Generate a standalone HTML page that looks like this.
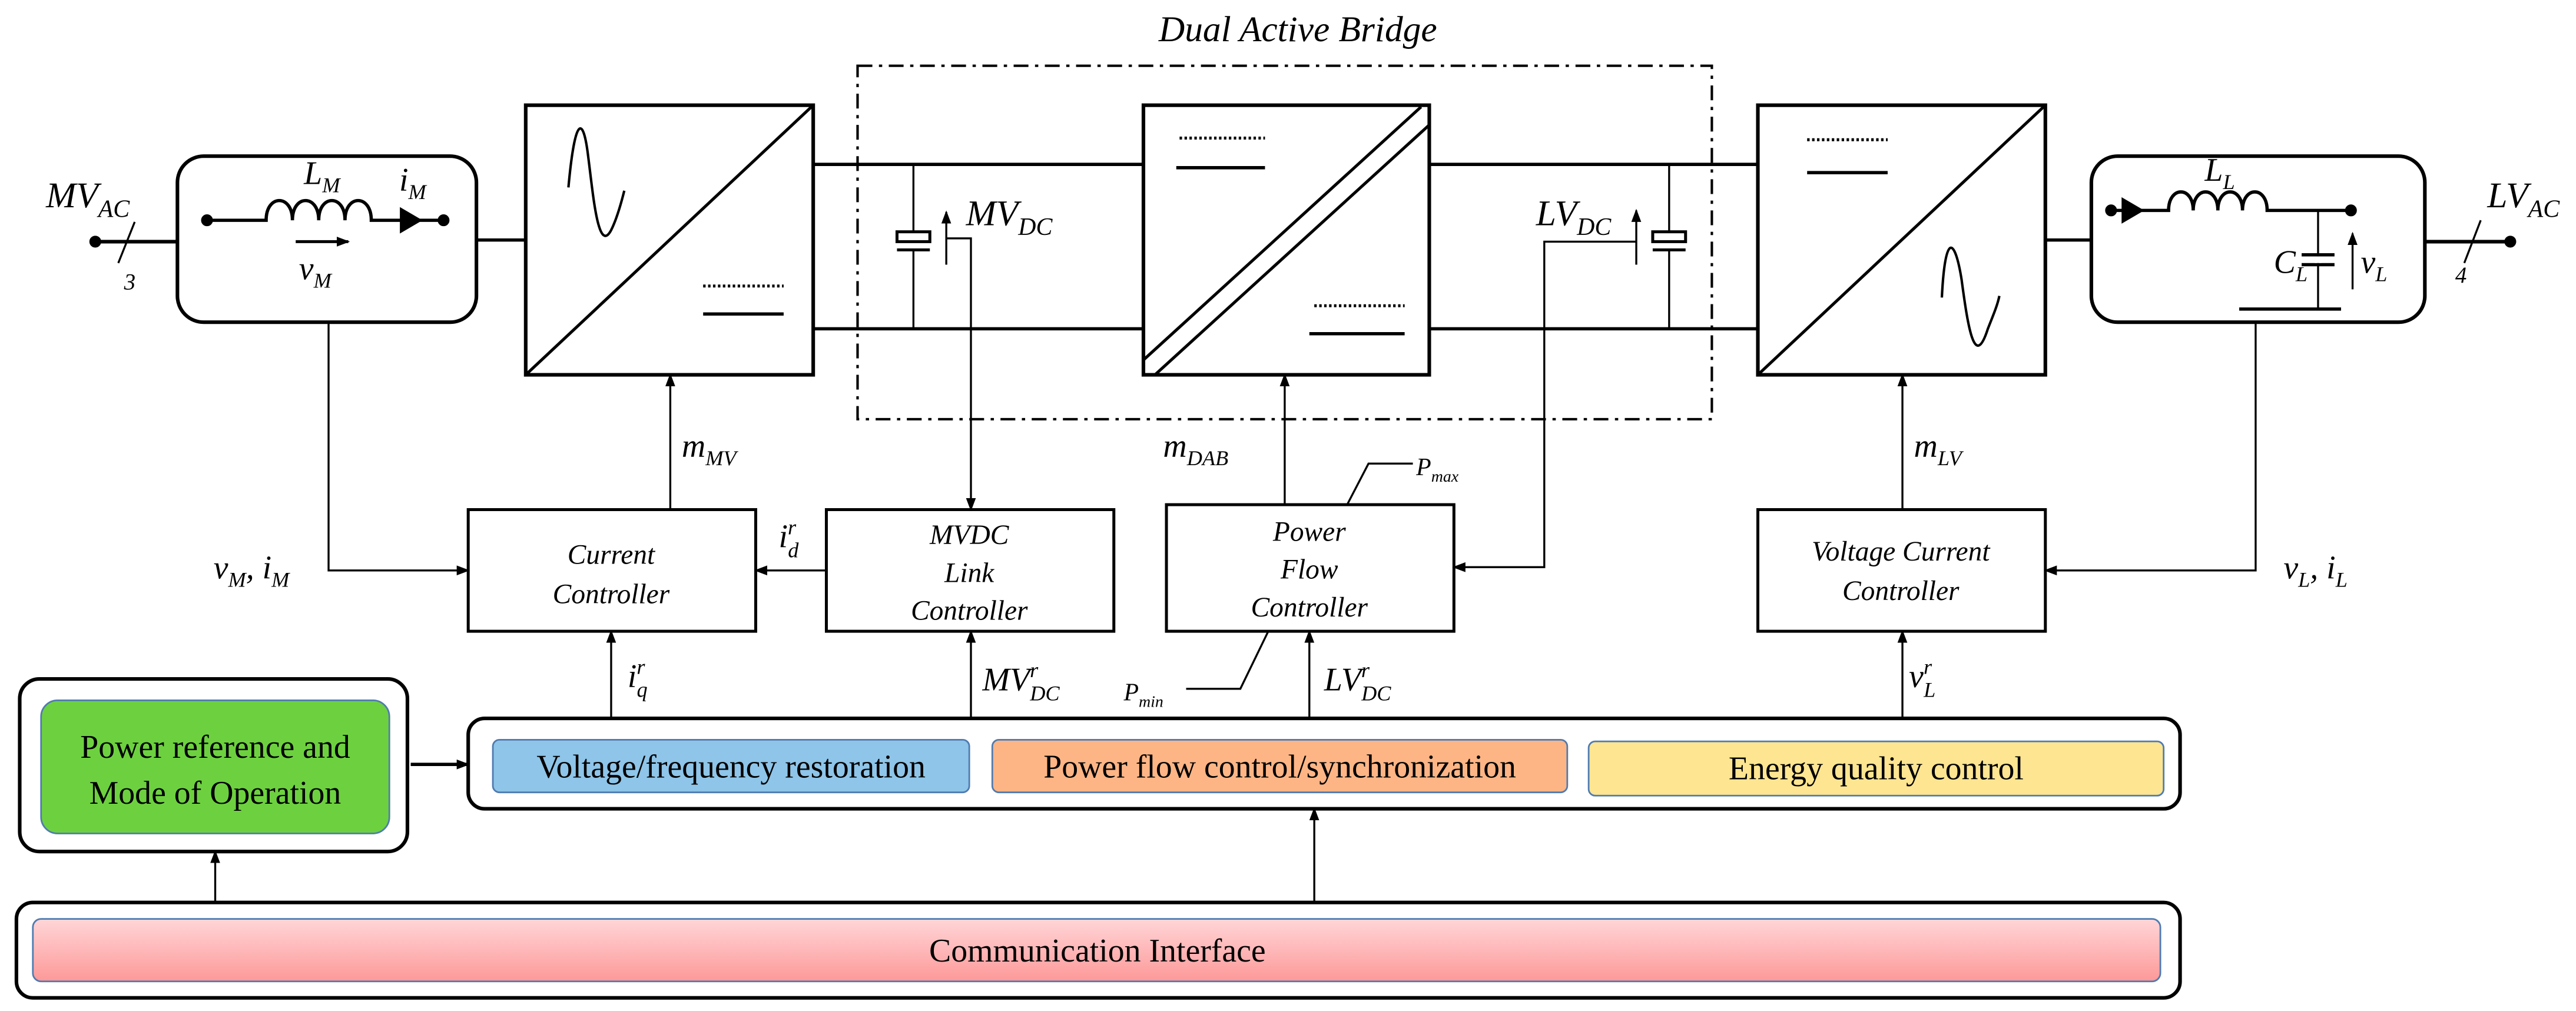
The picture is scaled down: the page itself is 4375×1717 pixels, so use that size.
<!DOCTYPE html>
<html><head><meta charset="utf-8"><style>
html,body{margin:0;padding:0;background:#fff;}
svg{display:block;font-family:"Liberation Serif","DejaVu Serif",serif;}
svg text{font-family:"Liberation Serif","DejaVu Serif",serif;}
.it{font-style:italic;}
</style></head><body>
<svg width="4375" height="1717" viewBox="0 0 1568 615" preserveAspectRatio="none" xmlns="http://www.w3.org/2000/svg" font-family="Liberation Serif, DejaVu Serif, serif">
<defs>
<marker id="ar" markerWidth="8" markerHeight="8" refX="7" refY="4" orient="auto" markerUnits="userSpaceOnUse"><path d="M0,1 L8,4 L0,7 z" fill="#000"/></marker>
<linearGradient id="pk" x1="0" y1="0" x2="0" y2="1"><stop offset="0" stop-color="#ffd6d8"/><stop offset="1" stop-color="#fe9898"/></linearGradient>
</defs>
<g fill="none" stroke="#000" stroke-width="1.2">
<text x="790" y="25" font-size="22" class="it" text-anchor="middle" stroke="none" fill="#000">Dual Active Bridge</text>
<rect x="522" y="40" width="520" height="215" stroke-width="1.5" stroke-dasharray="9,4,2,4"/>
<rect x="108" y="95" width="182" height="101" rx="16" stroke-width="2.2"/>
<line x1="58" y1="147" x2="108" y2="147" stroke-width="2.2"/>
<circle cx="58" cy="147" r="3" fill="#000"/>
<line x1="72" y1="160" x2="82" y2="135"/>
<text x="79" y="176" font-size="14" stroke="none" fill="#000" class="it" text-anchor="middle">3</text>
<text x="28" y="126" font-size="22" class="it" stroke="none" fill="#000">MV<tspan font-size="15" dy="6">AC</tspan></text>
<circle cx="126" cy="134" r="3" fill="#000"/>
<path d="M126,134 H162 c0,-16 16,-16 16,0 c0,-16 16,-16 16,0 c0,-16 16,-16 16,0 c0,-16 16,-16 16,0 H270" stroke-width="2"/>
<path d="M244,127 L256,134 L244,141 z" fill="#000"/>
<circle cx="270" cy="134" r="3" fill="#000"/>
<line x1="180" y1="147" x2="212" y2="147" stroke-width="1.8" marker-end="url(#ar)"/>
<text x="185" y="112" font-size="20" class="it" stroke="none" fill="#000">L<tspan font-size="13" dy="5">M</tspan></text>
<text x="243" y="116" font-size="20" class="it" stroke="none" fill="#000">i<tspan font-size="13" dy="5">M</tspan></text>
<text x="182" y="170" font-size="20" class="it" stroke="none" fill="#000">v<tspan font-size="13" dy="5">M</tspan></text>
<line x1="290" y1="146" x2="320" y2="146" stroke-width="2"/>
<rect x="320" y="64" width="175" height="164" stroke-width="2.2"/>
<line x1="320" y1="228" x2="495" y2="64" stroke-width="1.8"/>
<path d="M346,114 C350,70 355,70 358,95 C361,118 364,155 372,140 C376,132 379,120 380,116" stroke-width="1.5"/>
<line x1="428" y1="174" x2="477" y2="174" stroke-width="1.8" stroke-dasharray="1.5,1.5"/>
<line x1="428" y1="191" x2="477" y2="191" stroke-width="2"/>
<line x1="495" y1="100" x2="696" y2="100" stroke-width="2"/>
<line x1="495" y1="200" x2="696" y2="200" stroke-width="2"/>
<line x1="870" y1="100" x2="1070" y2="100" stroke-width="2"/>
<line x1="870" y1="200" x2="1070" y2="200" stroke-width="2"/>
<line x1="556" y1="100" x2="556" y2="141"/>
<rect x="546" y="141" width="20" height="6" stroke-width="1.8"/>
<line x1="546" y1="152" x2="566" y2="152" stroke-width="1.8"/>
<line x1="556" y1="152" x2="556" y2="200"/>
<line x1="576" y1="161" x2="576" y2="129" marker-end="url(#ar)"/>
<polyline points="576,145 591,145 591,310" marker-end="url(#ar)"/>
<text x="588" y="137" font-size="22" class="it" stroke="none" fill="#000">MV<tspan font-size="15" dy="6">DC</tspan></text>
<rect x="696" y="64" width="174" height="164" stroke-width="2.2"/>
<line x1="696" y1="219" x2="865" y2="65" stroke-width="1.8"/>
<line x1="703" y1="228" x2="870" y2="76" stroke-width="1.8"/>
<line x1="718" y1="84" x2="770" y2="84" stroke-width="1.8" stroke-dasharray="1.5,1.5"/>
<line x1="716" y1="102" x2="770" y2="102" stroke-width="2"/>
<line x1="800" y1="186" x2="855" y2="186" stroke-width="1.8" stroke-dasharray="1.5,1.5"/>
<line x1="797" y1="203" x2="855" y2="203" stroke-width="2"/>
<line x1="1016" y1="100" x2="1016" y2="141"/>
<rect x="1006" y="141" width="20" height="6" stroke-width="1.8"/>
<line x1="1006" y1="152" x2="1026" y2="152" stroke-width="1.8"/>
<line x1="1016" y1="152" x2="1016" y2="200"/>
<line x1="996" y1="161" x2="996" y2="128" marker-end="url(#ar)"/>
<polyline points="996,147 940,147 940,345 885,345" marker-end="url(#ar)"/>
<text x="935" y="137" font-size="22" class="it" stroke="none" fill="#000">LV<tspan font-size="15" dy="6">DC</tspan></text>
<rect x="1070" y="64" width="175" height="164" stroke-width="2.2"/>
<line x1="1070" y1="228" x2="1245" y2="64" stroke-width="1.8"/>
<line x1="1100" y1="85" x2="1149" y2="85" stroke-width="1.8" stroke-dasharray="1.5,1.5"/>
<line x1="1100" y1="105" x2="1149" y2="105" stroke-width="2"/>
<path d="M1182,181 C1184,140 1190,145 1194,170 C1198,200 1202,225 1210,200 C1214,190 1216,185 1217,180" stroke-width="1.5"/>
<line x1="1245" y1="146" x2="1273" y2="146" stroke-width="2"/>
<rect x="1273" y="95" width="203" height="101" rx="16" stroke-width="2.2"/>
<circle cx="1285" cy="128" r="3" fill="#000"/>
<path d="M1285,128 H1320 c0,-15 15,-15 15,0 c0,-15 15,-15 15,0 c0,-15 15,-15 15,0 c0,-15 15,-15 15,0 H1431" stroke-width="2"/>
<path d="M1292,121 L1304,128 L1292,135 z" fill="#000"/>
<circle cx="1431" cy="128" r="3" fill="#000"/>
<line x1="1411" y1="128" x2="1411" y2="188"/>
<line x1="1401" y1="155" x2="1421" y2="155" stroke-width="2"/>
<line x1="1401" y1="161" x2="1421" y2="161" stroke-width="2"/>
<rect x="1409" y="156" width="4" height="4" fill="#fff" stroke="none"/>
<line x1="1363" y1="188" x2="1425" y2="188" stroke-width="2"/>
<line x1="1432" y1="176" x2="1432" y2="142" marker-end="url(#ar)"/>
<text x="1342" y="110" font-size="20" class="it" stroke="none" fill="#000">L<tspan font-size="13" dy="5">L</tspan></text>
<text x="1384" y="166" font-size="20" class="it" stroke="none" fill="#000">C<tspan font-size="13" dy="5">L</tspan></text>
<text x="1437" y="166" font-size="20" class="it" stroke="none" fill="#000">v<tspan font-size="13" dy="5">L</tspan></text>
<line x1="1476" y1="147" x2="1528" y2="147" stroke-width="2.2"/>
<circle cx="1528" cy="147" r="3" fill="#000"/>
<line x1="1500" y1="160" x2="1510" y2="134"/>
<text x="1498" y="172" font-size="14" class="it" stroke="none" fill="#000" text-anchor="middle">4</text>
<text x="1514" y="126" font-size="22" class="it" stroke="none" fill="#000">LV<tspan font-size="15" dy="6">AC</tspan></text>
<rect x="285" y="310" width="175" height="74" stroke-width="1.8"/>
<rect x="503" y="310" width="175" height="74" stroke-width="1.8"/>
<rect x="710" y="307" width="175" height="77" stroke-width="1.8"/>
<rect x="1070" y="310" width="175" height="74" stroke-width="1.8"/>
<g stroke="none" fill="#000" font-size="17" class="it" text-anchor="middle">
<text x="372" y="343">Current</text><text x="372" y="367">Controller</text>
<text x="590" y="331">MVDC</text><text x="590" y="354">Link</text><text x="590" y="377">Controller</text>
<text x="797" y="329">Power</text><text x="797" y="352">Flow</text><text x="797" y="375">Controller</text>
<text x="1157" y="341">Voltage Current</text><text x="1157" y="365">Controller</text>
</g>
<polyline points="200,196 200,347 285,347" marker-end="url(#ar)"/>
<text x="130" y="352" font-size="20" class="it" stroke="none" fill="#000">v<tspan font-size="13" dy="5">M</tspan><tspan dy="-5">, i</tspan><tspan font-size="13" dy="5">M</tspan></text>
<line x1="408" y1="310" x2="408" y2="228" marker-end="url(#ar)"/>
<text x="415" y="278" font-size="20" class="it" stroke="none" fill="#000">m<tspan font-size="13" dy="5">MV</tspan></text>
<line x1="503" y1="347" x2="460" y2="347" marker-end="url(#ar)"/>
<text x="474" y="333" font-size="20" class="it" stroke="none" fill="#000">i<tspan font-size="13" dy="-8">r</tspan><tspan font-size="13" dx="-5" dy="14">d</tspan></text>
<line x1="782" y1="307" x2="782" y2="228" marker-end="url(#ar)"/>
<text x="708" y="278" font-size="20" class="it" stroke="none" fill="#000">m<tspan font-size="13" dy="5">DAB</tspan></text>
<polyline points="820,307 833,282 860,282"/>
<text x="862" y="289" font-size="15" class="it" stroke="none" fill="#000">P<tspan font-size="10" dy="4">max</tspan></text>
<line x1="1158" y1="310" x2="1158" y2="228" marker-end="url(#ar)"/>
<text x="1165" y="278" font-size="20" class="it" stroke="none" fill="#000">m<tspan font-size="13" dy="5">LV</tspan></text>
<polyline points="1373,196 1373,347 1245,347" marker-end="url(#ar)"/>
<text x="1390" y="352" font-size="20" class="it" stroke="none" fill="#000">v<tspan font-size="13" dy="5">L</tspan><tspan dy="-5">, i</tspan><tspan font-size="13" dy="5">L</tspan></text>
<line x1="372" y1="437" x2="372" y2="384" marker-end="url(#ar)"/>
<text x="382" y="418" font-size="20" class="it" stroke="none" fill="#000">i<tspan font-size="13" dy="-8">r</tspan><tspan font-size="13" dx="-5" dy="14">q</tspan></text>
<line x1="591" y1="437" x2="591" y2="384" marker-end="url(#ar)"/>
<text x="598" y="420" font-size="20" class="it" stroke="none" fill="#000">MV<tspan font-size="13" dy="-8">r</tspan><tspan font-size="13" dx="-5" dy="14">DC</tspan></text>
<line x1="797" y1="437" x2="797" y2="384" marker-end="url(#ar)"/>
<text x="806" y="420" font-size="20" class="it" stroke="none" fill="#000">LV<tspan font-size="13" dy="-8">r</tspan><tspan font-size="13" dx="-5" dy="14">DC</tspan></text>
<polyline points="772,384 755,419 722,419"/>
<text x="684" y="426" font-size="15" class="it" stroke="none" fill="#000">P<tspan font-size="10" dy="4">min</tspan></text>
<line x1="1158" y1="437" x2="1158" y2="384" marker-end="url(#ar)"/>
<text x="1162" y="418" font-size="20" class="it" stroke="none" fill="#000">v<tspan font-size="13" dy="-8">r</tspan><tspan font-size="13" dx="-5" dy="14">L</tspan></text>
<rect x="285" y="437" width="1042" height="55" rx="10" stroke-width="2.2"/>
<rect x="300" y="450" width="290" height="32" rx="4" fill="#8ec5e9" stroke="#4f7bb0" stroke-width="1"/>
<rect x="604" y="450" width="350" height="32" rx="4" fill="#fdb585" stroke="#4f7bb0" stroke-width="1"/>
<rect x="967" y="451" width="350" height="33" rx="4" fill="#fde591" stroke="#4f7bb0" stroke-width="1"/>
<g stroke="none" fill="#000" font-size="20" text-anchor="middle">
<text x="445" y="473">Voltage/frequency restoration</text>
<text x="779" y="473">Power flow control/synchronization</text>
<text x="1142" y="474">Energy quality control</text>
</g>
<rect x="12" y="413" width="236" height="105" rx="12" stroke-width="2.2"/>
<rect x="25" y="426" width="212" height="81" rx="10" fill="#6dd13f" stroke="#4f7bb0" stroke-width="1"/>
<g stroke="none" fill="#000" font-size="20" text-anchor="middle">
<text x="131" y="461">Power reference and</text>
<text x="131" y="489">Mode of Operation</text>
</g>
<line x1="250" y1="465" x2="285" y2="465" stroke-width="2" marker-end="url(#ar)"/>
<line x1="131" y1="549" x2="131" y2="518" marker-end="url(#ar)"/>
<line x1="800" y1="549" x2="800" y2="492" marker-end="url(#ar)"/>
<rect x="10" y="549" width="1317" height="58" rx="10" stroke-width="2.2"/>
<rect x="20" y="559" width="1295" height="38" rx="5" fill="url(#pk)" stroke="#4f7bb0" stroke-width="1"/>
<text x="668" y="585" font-size="20" text-anchor="middle" stroke="none" fill="#000">Communication Interface</text>
</g>
</svg>
</body></html>
